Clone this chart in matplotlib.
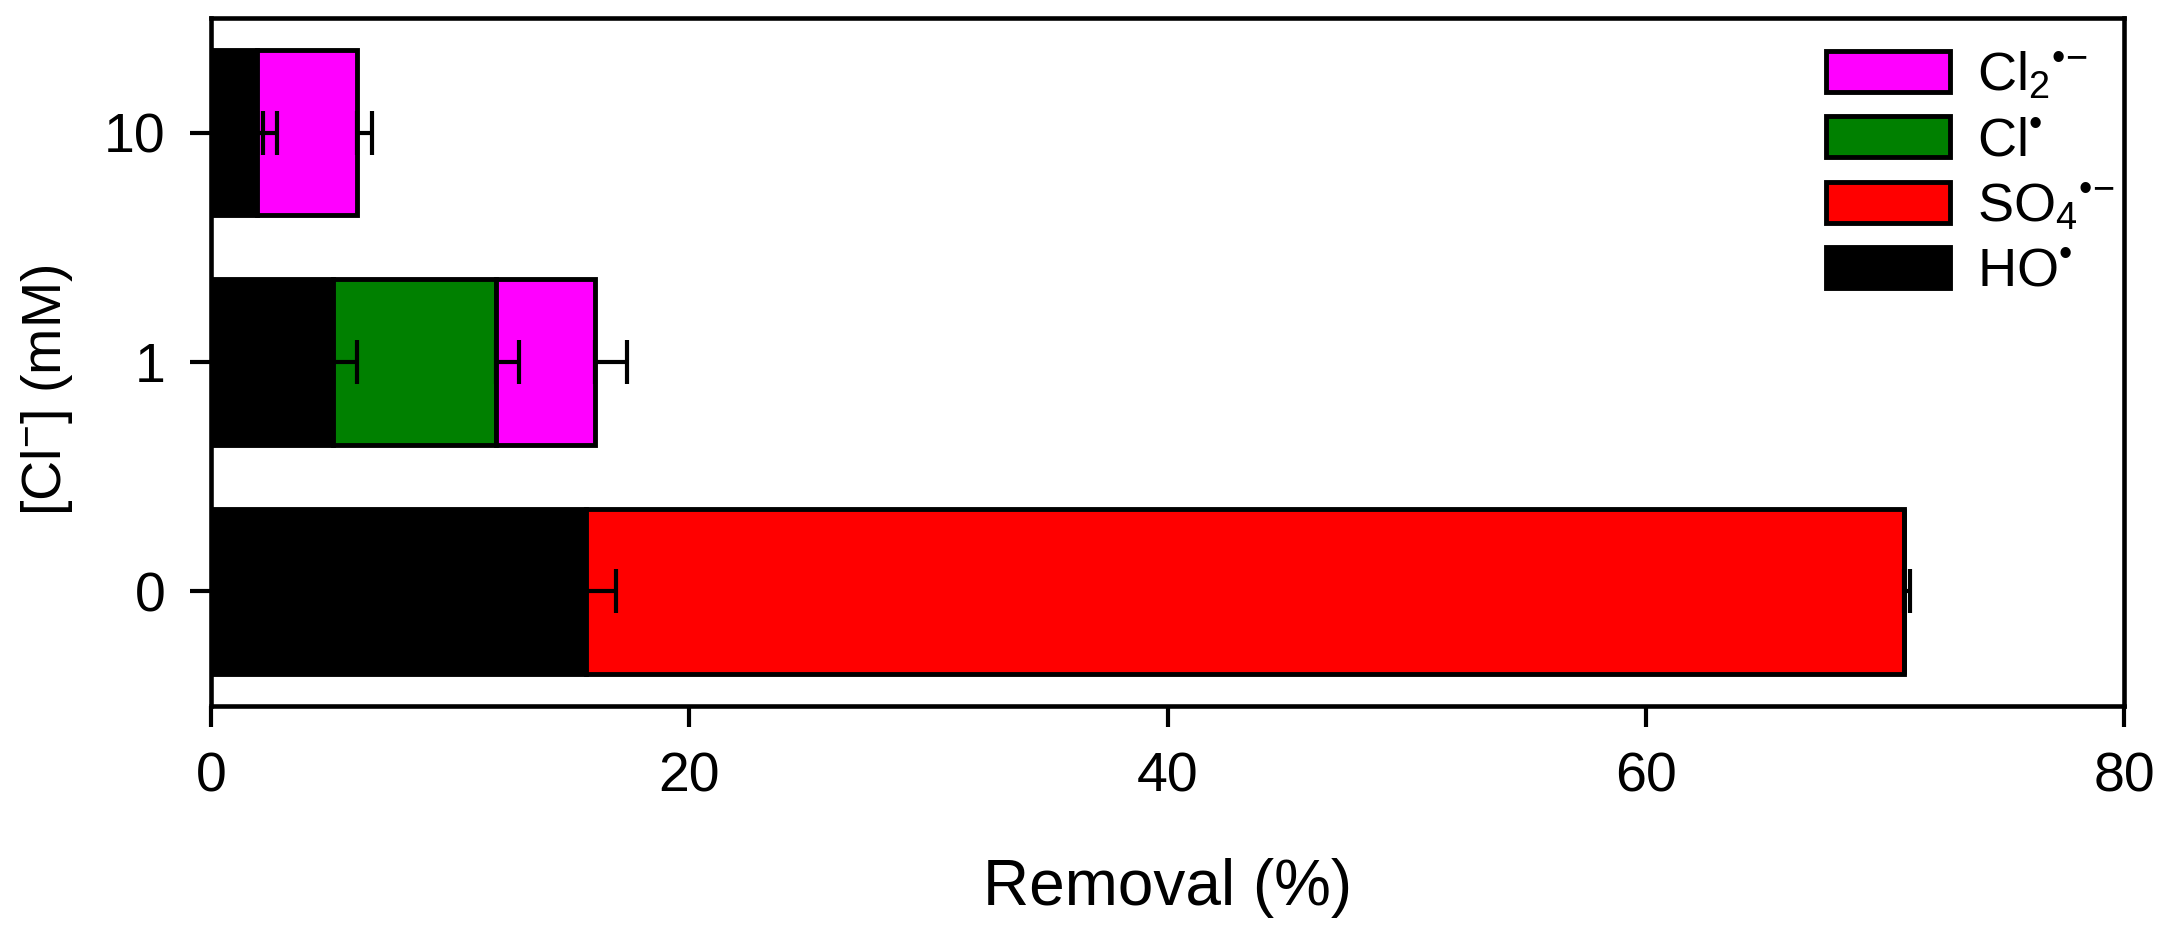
import numpy as np
import matplotlib
matplotlib.use("Agg")
import matplotlib.pyplot as plt

plt.rcParams['font.family'] = ['Liberation Sans', 'DejaVu Sans']
plt.rcParams['mathtext.fontset'] = 'custom'
plt.rcParams['mathtext.rm'] = 'Liberation Sans'
plt.rcParams['mathtext.it'] = 'Liberation Sans:italic'
plt.rcParams['mathtext.bf'] = 'Liberation Sans:bold'
plt.rcParams['mathtext.default'] = 'regular'

# ---- data ----
categories = ['0', '1', '10']          # [Cl-] (mM)
HO = [15.7, 5.1, 1.93]
HO_err = [1.25, 1.0, 0.25]
SO4 = [55.1, 0.0, 0.0]
SO4_err = [0.25, 0.0, 0.0]
Cl = [0.0, 6.8, 0.0]
Cl_err = [0.0, 1.0, 0.83]
Cl2 = [0.0, 4.17, 4.17]
Cl2_err = [0.0, 1.33, 0.64]

series_labels = ['HO$^{\u2022}$', 'SO$_4{}^{\u2022\\!-}$', 'Cl$^{\u2022}$',
                 'Cl$_2{}^{\u2022\\!-}$']
series_colors = ['#000000', '#ff0000', '#008000', '#ff00ff']
xticks = [0, 20, 40, 60, 80]

W, H = 2166, 950
fig = plt.figure(figsize=(W / 100, H / 100), dpi=100)
ax = fig.add_axes([211 / W, 1 - 706 / H, (2124 - 211) / W, (706 - 18) / H])

ypos = np.arange(len(categories))
values = [np.array(HO), np.array(SO4), np.array(Cl), np.array(Cl2)]
errs = [np.array(HO_err), np.array(SO4_err), np.array(Cl_err), np.array(Cl2_err)]

left = np.zeros(len(categories))
handles = []
ends_list = []
for v, c, lab in zip(values, series_colors, series_labels):
    b = ax.barh(ypos, v, left=left, height=0.72, color=c, edgecolor='black',
                linewidth=3.5, label=lab, zorder=2)
    handles.append(b)
    left = left + v
    ends_list.append(left.copy())

for ends, e in zip(ends_list, errs):
    m = e > 0
    if m.any():
        ax.errorbar(ends[m], ypos[m], xerr=[np.zeros(m.sum()), e[m]], fmt='none',
                    ecolor='black', elinewidth=3, capsize=15.5, capthick=3,
                    zorder=3)

ax.set_xlim(0, 80)
ax.set_ylim(-0.5, 2.5)
ax.set_xticks(xticks)
ax.set_yticks(ypos)
ax.set_yticklabels(categories)
for s in ax.spines.values():
    s.set_linewidth(3.3)
ax.tick_params(direction='out', length=15, width=3, labelsize=40, pad=18,
               top=False, right=False)

ax.set_xlabel('Removal (%)', fontsize=46)
ax.xaxis.set_label_coords(0.5, -(858 - 706) / 688)
ax.set_ylabel('[Cl$^{-}$] (mM)', fontsize=40)
ax.yaxis.set_label_coords(-(211 - 75) / 1913, (706 - 390) / 688)

leg = ax.legend(handles[::-1], series_labels[::-1], loc='upper left',
                bbox_to_anchor=((1826 - 211) / 1913, (706 - 50) / 688),
                frameon=False, fontsize=39, handlelength=2.29, handleheight=0.79,
                handletextpad=0.5, labelspacing=0.27, borderpad=0,
                borderaxespad=0)

fig.savefig('out.png', dpi=100)
